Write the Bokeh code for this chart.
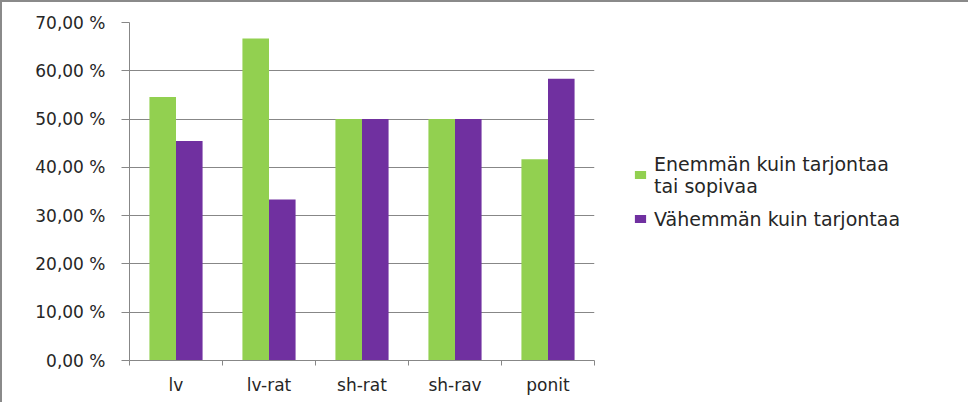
from bokeh.plotting import figure
from bokeh.models import FixedTicker, Legend, LegendItem, Range1d
from bokeh.embed import file_html
from bokeh.resources import INLINE

categories = ["lv", "lv-rat", "sh-rat", "sh-rav", "ponit"]
series_names = ["Enemmän kuin tarjontaa\ntai sopivaa", "Vähemmän kuin tarjontaa"]
more_or_suitable = [54.55, 66.67, 50.0, 50.0, 41.67]
less = [45.45, 33.33, 50.0, 50.0, 58.33]
y_ticks = [0, 10, 20, 30, 40, 50, 60, 70]
colors = ["#92D050", "#7030A0"]

FONT = "DejaVu Sans"
TXT = "#262626"
GRID = "#878787"

p = figure(frame_width=465, frame_height=338, output_backend="svg", toolbar_location=None,
           x_range=Range1d(0, len(categories)), y_range=Range1d(0, 70),
           min_border_left=127, min_border_right=350,
           min_border_top=20, min_border_bottom=42)
p.styles = {"border-left": "2px solid #8a8a8a", "border-top": "2px solid #8a8a8a"}
p.outline_line_color = None
p.background_fill_color = "white"
p.border_fill_color = "white"

bw = 1.0 / 3.5
xs = list(range(len(categories)))
x_green = [i + 0.5 - bw / 2 for i in xs]
x_purple = [i + 0.5 + bw / 2 for i in xs]
r1 = p.vbar(x=x_green, top=more_or_suitable, width=bw, bottom=0,
            fill_color=colors[0], line_color=None)
r2 = p.vbar(x=x_purple, top=less, width=bw, bottom=0,
            fill_color=colors[1], line_color=None)

# x axis: labels at centres, boundary ticks as minor ticks
xa = p.xaxis[0]
xa.ticker = FixedTicker(ticks=[i + 0.5 for i in xs], minor_ticks=[i for i in range(len(categories) + 1)])
xa.major_label_overrides = {i + 0.5: c for i, c in zip(xs, categories)}
xa.major_tick_out = 0
xa.major_tick_in = 0
xa.minor_tick_out = 5
xa.minor_tick_in = 0
xa.minor_tick_line_color = GRID
xa.axis_line_color = GRID
xa.major_label_text_font = FONT
xa.major_label_text_font_size = "17px"
xa.major_label_text_color = TXT
xa.major_label_standoff = 9

ya = p.yaxis[0]
ya.ticker = FixedTicker(ticks=y_ticks, minor_ticks=[])
ya.major_label_overrides = {t: f"{t:.2f} %".replace(".", ",") for t in y_ticks}
ya.major_tick_out = 8
ya.major_tick_in = 0
ya.major_tick_line_color = GRID
ya.minor_tick_line_color = None
ya.axis_line_color = GRID
ya.major_label_text_font = FONT
ya.major_label_text_font_size = "17px"
ya.major_label_text_color = TXT
ya.major_label_standoff = 16

p.xgrid.grid_line_color = None
p.ygrid.grid_line_color = GRID
p.ygrid.ticker = FixedTicker(ticks=y_ticks)

legend = Legend(items=[LegendItem(label=series_names[0], renderers=[r1]),
                       LegendItem(label=series_names[1], renderers=[r2])],
                location="center_left", orientation="vertical",
                glyph_width=14, glyph_height=10, label_standoff=7,
                label_text_font=FONT, label_text_font_size="19px",
                label_text_color=TXT, spacing=11, padding=0, margin=39,
                border_line_color=None, background_fill_alpha=0)
p.add_layout(legend, "right")

open("out.html", "w").write(file_html(p, INLINE))
